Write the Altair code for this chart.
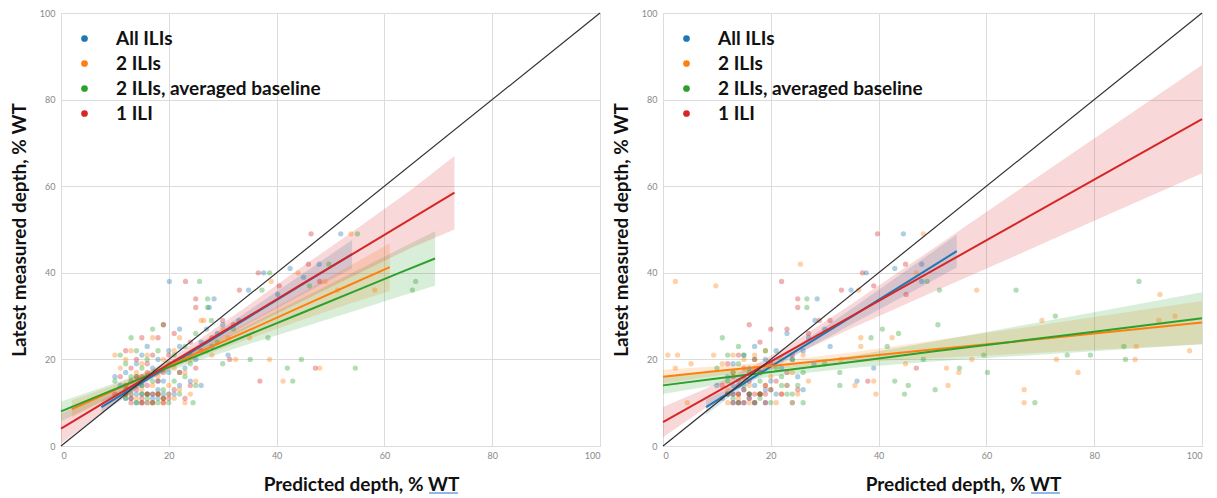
import altair as alt
import pandas as pd

SERIES = ["All ILIs", "2 ILIs", "2 ILIs, averaged baseline", "1 ILI"]
COLORS = ["#1f77b4", "#ff7f0e", "#2ca02c", "#d62728"]

# ---------------- Left panel scatter ----------------
L_ALL_X = [10, 11, 12, 12, 13, 13, 14, 14, 15, 15, 15, 16, 16, 16, 17, 17, 18, 18, 19, 20, 20, 21, 21, 22, 22, 23, 24, 24, 25, 26, 27, 28, 29, 30,
           20.1, 28.4, 27.5, 34.8, 37.6, 42.5, 47.9, 40.2, 51.9, 22, 31, 26, 33, 45,
           13, 14, 16, 17, 18, 19, 15, 12, 20, 18]
L_ALL_Y = [16, 14, 13, 17, 11, 15, 12, 19, 10, 14, 21, 12, 16, 23, 11, 18, 13, 20, 15, 17, 22, 12, 19, 23, 14, 18, 21, 15, 20, 24, 27, 23, 26, 28,
           38, 34, 32, 36, 40, 41, 42, 35, 49, 27, 21, 14, 29, 39,
           12, 10, 10, 12, 11, 12, 12, 11, 12, 15]
L_TWO_X = [10, 11, 12, 12, 13, 13, 14, 14, 15, 15, 16, 16, 17, 17, 18, 18, 19, 19, 20, 21, 21, 22, 22, 23, 23, 24, 24, 25, 26, 28, 30, 31,
           26.5, 39, 38.7, 32.4, 41.2, 48, 49, 51.3, 58.2, 53.8, 35, 44,
           13, 15, 17, 18, 19, 20, 16, 12, 21, 14]
L_TWO_Y = [21, 18, 12, 20, 15, 22, 11, 17, 13, 19, 10, 21, 14, 25, 12, 16, 20, 11, 14, 18, 22, 13, 25, 17, 10, 12, 20, 15, 29, 21, 27, 25,
           29, 38, 20, 20, 15, 18, 38, 36, 36, 49, 25, 40,
           12, 10, 10, 12, 10, 12, 12, 14, 11, 14]
L_AVG_X = [10, 11, 12, 12, 13, 13, 14, 14, 15, 15, 16, 16, 17, 17, 18, 18, 19, 19, 20, 21, 21, 22, 23, 23, 24, 25, 25, 27, 29, 30, 32,
           25.7, 27.2, 27.2, 27.9, 37.3, 38.7, 49.7, 46.1, 38.4, 35.1, 44.6, 42, 43, 54.6, 65.2, 65.8, 55, 24.5,
           12, 14, 16, 17, 18, 19, 20, 13, 15, 22]
L_AVG_Y = [15, 21, 19, 11, 13, 25, 16, 22, 12, 18, 11, 20, 15, 27, 10, 22, 13, 28, 19, 15, 21, 12, 23, 16, 19, 14, 26, 22, 24, 19, 27,
           38, 34, 32, 29, 36, 40, 42, 37, 25, 20, 20, 18, 15, 18, 36, 38, 49, 10,
           12, 10, 12, 10, 12, 11, 10, 16, 14, 17]
L_ONE_X = [10, 11, 12, 12, 13, 13, 14, 14, 15, 15, 15, 16, 16, 17, 17, 18, 18, 19, 19, 20, 21, 21, 22, 23, 23, 24, 24, 25, 26, 28, 30, 32,
           23.1, 25, 25, 33.1, 36.6, 45.9, 40.5, 48, 47.2, 36.9, 31.3, 46.4, 19,
           12, 13, 15, 16, 17, 18, 19, 14, 16, 20]
L_ONE_Y = [12, 16, 14, 22, 10, 18, 13, 20, 11, 16, 25, 14, 19, 12, 21, 15, 25, 11, 17, 21, 13, 26, 17, 20, 11, 24, 14, 18, 22, 25, 29, 28,
           38, 34, 32, 36, 40, 42, 37, 38, 18, 15, 20, 49, 28,
           12, 11, 10, 12, 10, 12, 10, 16, 17, 11]

# ---------------- Right panel scatter ----------------
R_ALL_X = [10, 11, 12, 13, 13, 14, 14, 15, 15, 16, 16, 17, 17, 18, 18, 19, 19, 20, 21, 21, 22, 23, 23, 24, 24, 25, 26, 26, 27, 28, 30,
           28.6, 28.2, 34.9, 37.7, 43, 48, 48, 44.6, 39.1, 31, 36,
           12, 13, 14, 15, 16, 17, 18, 19, 13, 15]
R_ALL_Y = [14, 11, 16, 12, 19, 10, 15, 13, 21, 11, 18, 14, 23, 12, 17, 20, 10, 15, 22, 12, 18, 14, 26, 20, 10, 16, 22, 13, 25, 19, 27,
           34, 29, 36, 40, 41, 42, 38, 49, 18, 23, 15,
           12, 10, 12, 10, 12, 10, 12, 13, 14, 16]
R_TWO_X = [11, 12, 13, 14, 15, 16, 17, 18, 19, 20, 21, 22, 23, 24, 25, 26, 27,
           2.3, 9.8, 25.5, 0.9, 2.7, 2.3, 5.2, 4.5, 9.4, 36.3, 47, 58.2, 92.2, 42.5, 36.7, 36.7, 35.6, 39.5, 39.1, 52.6, 52.9,
           57.3, 54.9, 67, 67, 70.3, 73, 77, 87.8, 87.6, 92, 95, 97.7, 48.3, 45, 33,
           12, 14, 16, 18, 15, 13, 17, 22, 24, 19]
R_TWO_Y = [19, 13, 17, 11, 20, 14, 18, 12, 22, 16, 10, 20, 14, 17, 12, 21, 15,
           38, 37, 42, 21, 21, 18, 19, 10, 21, 36, 40, 36, 35, 25, 25, 23, 14, 12, 15, 18, 14,
           20, 17, 13, 10, 29, 20, 17, 23, 20, 29, 30, 22, 49, 19, 20,
           10, 12, 10, 12, 15, 21, 21, 12, 10, 14]
R_AVG_X = [10, 11, 12, 12, 13, 14, 14, 15, 16, 16, 17, 18, 18, 19, 20, 21, 22, 23, 24, 25, 26, 26,
           26.7, 26.7, 49, 51.3, 65.5, 88.3, 51, 40.7, 43.7, 38.6, 41.6, 32.8, 32.8, 43, 44.8, 45.5, 48.3, 50.5, 59.5, 60.2,
           55, 69, 72.8, 75, 79.3, 85.5, 85.8, 30,
           12, 14, 16, 17, 18, 20, 15, 13, 22, 24]
R_AVG_Y = [18, 25, 15, 21, 11, 19, 23, 14, 17, 12, 20, 15, 11, 22, 13, 18, 16, 12, 20, 14, 10, 17,
           34, 32, 38, 36, 36, 38, 28, 27, 26, 25, 23, 17, 14, 15, 12, 14, 20, 13, 21, 17,
           18, 10, 30, 21, 21, 23, 20, 19,
           12, 10, 12, 10, 12, 10, 21, 17, 14, 12]
R_ONE_X = [11, 12, 13, 13, 14, 14, 15, 15, 16, 16, 16, 17, 17, 18, 18, 19, 19, 20, 20, 21, 22, 22, 23, 23, 24, 25, 25, 25, 27, 29, 31,
           33.1, 37, 39.1, 45, 45.1, 47, 39.8, 38,
           12, 13, 14, 15, 16, 17, 18, 19, 14, 20]
R_ONE_Y = [14, 19, 12, 16, 10, 21, 13, 18, 11, 15, 28, 20, 12, 17, 24, 14, 10, 19, 27, 15, 12, 38, 17, 27, 21, 34, 32, 13, 26, 29, 29,
           36, 40, 37, 42, 35, 18, 49, 15,
           12, 10, 12, 10, 12, 10, 12, 12, 14, 13]

# ---------------- Regression lines and confidence bands ----------------
L_ALL_BX = [7.5, 12, 17, 25, 35, 45, 54]
L_ALL_BM = [9.0, 12.4, 16.2, 22.3, 29.9, 37.5, 44.3]
L_ALL_BL = [7.4, 11.4, 15.6, 21.5, 28.4, 35.1, 41.0]
L_ALL_BH = [10.6, 13.4, 16.8, 23.1, 31.4, 39.9, 47.6]
L_TWO_BX = [2, 9, 17, 25, 35, 45, 53, 61]
L_TWO_BM = [8.5, 12.4, 16.8, 21.3, 26.8, 32.4, 36.9, 41.3]
L_TWO_BL = [6.5, 11.1, 16.0, 20.2, 24.8, 29.2, 32.6, 35.8]
L_TWO_BH = [10.5, 13.7, 17.6, 22.4, 28.8, 35.6, 41.2, 46.8]
L_AVG_BX = [0, 9, 17, 25, 35, 45, 55, 63, 69.4]
L_AVG_BM = [8.0, 12.6, 16.7, 20.7, 25.8, 30.9, 36.0, 40.1, 43.3]
L_AVG_BL = [5.7, 11.1, 15.8, 19.5, 23.6, 27.5, 31.4, 34.6, 37.0]
L_AVG_BH = [10.3, 14.1, 17.6, 21.9, 28.0, 34.3, 40.6, 45.6, 49.6]
L_ONE_BX = [0, 8, 16, 25, 35, 45, 55, 65, 73]
L_ONE_BM = [4.0, 10.0, 15.9, 22.6, 30.1, 37.6, 45.0, 52.5, 58.5]
L_ONE_BL = [0.5, 8.0, 14.9, 21.2, 27.5, 33.6, 39.7, 45.8, 50.0]
L_ONE_BH = [7.5, 12.0, 16.9, 24.0, 32.7, 41.6, 50.3, 59.2, 67.0]

R_ALL_BX = [8, 12, 17, 25, 35, 45, 54.5]
R_ALL_BM = [9.0, 12.1, 16.0, 22.2, 29.9, 37.6, 45.0]
R_ALL_BL = [7.2, 11.0, 15.3, 21.2, 28.1, 34.8, 41.2]
R_ALL_BH = [10.8, 13.2, 16.7, 23.2, 31.7, 40.4, 48.8]
R_TWO_BX = [0, 10, 20, 35, 50, 65, 80, 100]
R_TWO_BM = [16.0, 17.3, 18.5, 20.4, 22.3, 24.1, 26.0, 28.5]
R_TWO_BL = [14.4, 16.2, 17.6, 19.2, 20.3, 21.2, 22.2, 23.5]
R_TWO_BH = [17.6, 18.4, 19.4, 21.6, 24.3, 27.0, 29.8, 33.5]
R_AVG_BX = [0, 10, 20, 35, 50, 65, 80, 100]
R_AVG_BM = [14.0, 15.6, 17.1, 19.4, 21.8, 24.1, 26.4, 29.5]
R_AVG_BL = [12.0, 14.1, 16.0, 18.0, 19.5, 20.7, 21.9, 23.5]
R_AVG_BH = [16.0, 17.1, 18.2, 20.8, 24.1, 27.5, 30.9, 35.5]
R_ONE_BX = [0, 8, 17, 25, 35, 50, 65, 80, 100]
R_ONE_BM = [5.5, 11.1, 17.4, 23.0, 30.0, 40.5, 51.0, 61.5, 75.5]
R_ONE_BL = [2.0, 8.9, 16.2, 21.4, 27.2, 35.5, 43.7, 52.0, 63.0]
R_ONE_BH = [9.0, 13.3, 18.6, 24.6, 32.8, 45.5, 58.3, 71.0, 88.0]

IDENT_X = [0, 100]
IDENT_Y = [0, 100]

FONT = "Lato"


def points_df(pairs):
    rows = []
    for name, xs, ys in pairs:
        for x, y in zip(xs, ys):
            rows.append({"x": x, "y": y, "series": name})
    return pd.DataFrame(rows)


def bands_df(groups):
    rows = []
    for name, xs, ms, ls, hs in groups:
        for x, m, l, h in zip(xs, ms, ls, hs):
            rows.append({"x": x, "mid": m, "lo": l, "hi": h, "series": name})
    return pd.DataFrame(rows)


color_scale = alt.Scale(domain=SERIES, range=COLORS)
xscale = alt.Scale(domain=[0, 100], nice=False)
yscale = alt.Scale(domain=[0, 100], nice=False)

x_axis = alt.Axis(title="Predicted depth, % WT", values=[0, 20, 40, 60, 80, 100], grid=True,
                  ticks=False, domain=False, labelFontSize=9, labelColor="#888", labelFont=FONT,
                  titleFont=FONT, titleFontSize=19, titleFontWeight="bold", titleColor="#111",
                  titlePadding=15, labelPadding=5, gridColor="#dcdcdc", titleX=300)
y_axis = alt.Axis(title="Latest measured depth, % WT", values=[0, 20, 40, 60, 80, 100], grid=True,
                  ticks=False, domain=False, labelFontSize=9, labelColor="#888", labelFont=FONT,
                  titleFont=FONT, titleFontSize=19, titleFontWeight="bold", titleColor="#111",
                  titlePadding=10, labelPadding=6, gridColor="#dcdcdc")

LEGEND = alt.Legend(title=None, orient="none", legendX=14, legendY=16,
                    labelFont=FONT, labelFontSize=19, labelFontWeight="bold",
                    labelColor="#111", symbolType="circle", symbolSize=45,
                    symbolOpacity=1, symbolStrokeWidth=0, rowPadding=5,
                    labelOffset=22, labelLimit=400)


def panel(pts, bands):
    base_pts = alt.Chart(pts)
    base_b = alt.Chart(bands)
    color = alt.Color("series:N", scale=color_scale, legend=LEGEND)
    area = base_b.mark_area(opacity=0.18).encode(
        x=alt.X("x:Q", scale=xscale, axis=x_axis),
        y=alt.Y("lo:Q", scale=yscale, axis=y_axis),
        y2="hi:Q",
        color=color,
        detail="series:N",
    )
    dots = base_pts.mark_circle(size=28, opacity=0.36).encode(
        x=alt.X("x:Q", scale=xscale),
        y=alt.Y("y:Q", scale=yscale),
        color=color,
    )
    lines = base_b.mark_line(strokeWidth=2).encode(
        x=alt.X("x:Q", scale=xscale),
        y=alt.Y("mid:Q", scale=yscale),
        color=color,
        detail="series:N",
    )
    ident = alt.Chart(pd.DataFrame({"x": IDENT_X, "y": IDENT_Y})).mark_line(
        color="#333", strokeWidth=1.2).encode(
        x=alt.X("x:Q", scale=xscale), y=alt.Y("y:Q", scale=yscale))
    # spell-check style underline beneath "WT" in the x-axis title (as in the source image)
    underline = alt.Chart(pd.DataFrame({"k": [0]})).mark_rule(
        color="#6f9fe0", strokeWidth=1.5).encode(
        x=alt.value(368), x2=alt.value(397), y=alt.value(480))
    return alt.layer(area, dots, lines, ident, underline).properties(width=539, height=433)


left = panel(
    points_df([(SERIES[0], L_ALL_X, L_ALL_Y), (SERIES[1], L_TWO_X, L_TWO_Y),
               (SERIES[2], L_AVG_X, L_AVG_Y), (SERIES[3], L_ONE_X, L_ONE_Y)]),
    bands_df([(SERIES[0], L_ALL_BX, L_ALL_BM, L_ALL_BL, L_ALL_BH),
              (SERIES[1], L_TWO_BX, L_TWO_BM, L_TWO_BL, L_TWO_BH),
              (SERIES[2], L_AVG_BX, L_AVG_BM, L_AVG_BL, L_AVG_BH),
              (SERIES[3], L_ONE_BX, L_ONE_BM, L_ONE_BL, L_ONE_BH)]),
)
right = panel(
    points_df([(SERIES[0], R_ALL_X, R_ALL_Y), (SERIES[1], R_TWO_X, R_TWO_Y),
               (SERIES[2], R_AVG_X, R_AVG_Y), (SERIES[3], R_ONE_X, R_ONE_Y)]),
    bands_df([(SERIES[0], R_ALL_BX, R_ALL_BM, R_ALL_BL, R_ALL_BH),
              (SERIES[1], R_TWO_BX, R_TWO_BM, R_TWO_BL, R_TWO_BH),
              (SERIES[2], R_AVG_BX, R_AVG_BM, R_AVG_BL, R_AVG_BH),
              (SERIES[3], R_ONE_BX, R_ONE_BM, R_ONE_BL, R_ONE_BH)]),
)

chart = alt.hconcat(left, right, spacing=8).resolve_scale(color="independent").properties(
    padding={"left": 9, "top": 8, "right": 4, "bottom": 4}
).configure_view(stroke="#d0d0d0", strokeWidth=1).configure(background="white")

chart.save("out.html", embed_options={"renderer": "svg", "actions": False})
